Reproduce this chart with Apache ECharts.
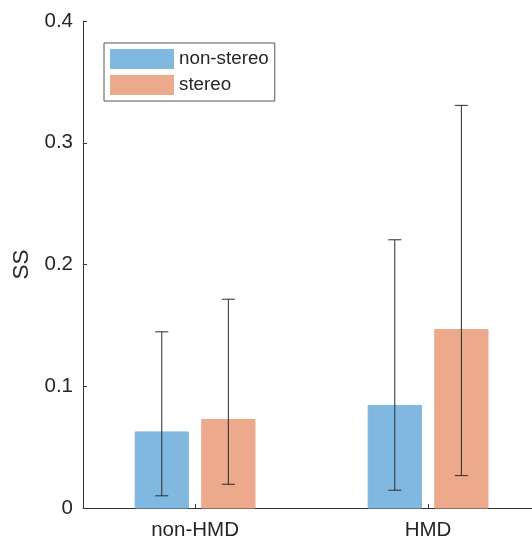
<!DOCTYPE html>
<html>
<head>
<meta charset="utf-8">
<script src="https://cdn.jsdelivr.net/npm/echarts@6/dist/echarts.min.js"></script>
<style>
  html, body { margin: 0; padding: 0; background: #fff; }
  #chart { width: 532px; height: 541px; }
</style>
</head>
<body>
<div id="chart"></div>
<script>
var categories = ["non-HMD", "HMD"];
var seriesNames = ["non-stereo", "stereo"];
var nonStereoMean = [0.0625, 0.0843];
var nonStereoLow = [0.010, 0.0146];
var nonStereoHigh = [0.1447, 0.2203];
var stereoMean = [0.0728, 0.1466];
var stereoLow = [0.0195, 0.0266];
var stereoHigh = [0.1715, 0.3307];
var yTicks = [0, 0.1, 0.2, 0.3, 0.4];

var colors = ["#80B8DF", "#ECA98C"];
var barWidth = 0.2286;
var offsets = [-0.1429, 0.1429];

var chartDom = document.getElementById("chart");
var myChart = echarts.init(chartDom);

function makeData(mean, low, high) {
  return categories.map(function (c, i) {
    return [i + 1, mean[i], low[i], high[i]];
  });
}

function barSeries(k, mean, low, high) {
  return {
    name: seriesNames[k],
    type: "custom",
    itemStyle: { color: colors[k] },
    data: makeData(mean, low, high),
    z: 2,
    renderItem: function (params, api) {
      var x = api.value(0) + offsets[k];
      var p0 = api.coord([x - barWidth / 2, api.value(1)]);
      var p1 = api.coord([x + barWidth / 2, 0]);
      return {
        type: "rect",
        shape: { x: p0[0], y: p0[1], width: p1[0] - p0[0], height: p1[1] - p0[1] },
        style: { fill: colors[k], stroke: colors[k], lineWidth: 1, opacity: 1 }
      };
    }
  };
}

function errSeries(k, mean, low, high) {
  return {
    type: "custom",
    data: makeData(mean, low, high),
    z: 3,
    renderItem: function (params, api) {
      var x = api.value(0) + offsets[k];
      var lo = api.coord([x, api.value(2)]);
      var hi = api.coord([x, api.value(3)]);
      var cap = 6.5;
      var st = { stroke: "#2b2b2b", lineWidth: 1 };
      return {
        type: "group",
        children: [
          { type: "line", shape: { x1: lo[0], y1: lo[1], x2: hi[0], y2: hi[1] }, style: st },
          { type: "line", shape: { x1: lo[0] - cap, y1: lo[1], x2: lo[0] + cap, y2: lo[1] }, style: st },
          { type: "line", shape: { x1: hi[0] - cap, y1: hi[1], x2: hi[0] + cap, y2: hi[1] }, style: st }
        ]
      };
    }
  };
}

var option = {
  animation: false,
  backgroundColor: "#fff",
  textStyle: { fontFamily: "Liberation Sans, Arial, sans-serif" },
  grid: { left: 83, right: 0, top: 21, bottom: 31 },
  legend: {
    data: seriesNames.map(function (n) { return { name: n, icon: "rect" }; }),
    orient: "vertical",
    left: 104,
    top: 43,
    padding: [6, 6, 6, 6],
    itemWidth: 64,
    itemHeight: 20,
    itemGap: 6,
    borderColor: "#555",
    borderWidth: 1,
    selectedMode: false,
    textStyle: { fontSize: 18.8, color: "#262626", fontFamily: "Liberation Sans, Arial, sans-serif" }
  },
  xAxis: {
    type: "value",
    min: 0.519,
    max: 2.446,
    splitLine: { show: false },
    axisLine: { show: true, lineStyle: { color: "#333", width: 1 } },
    axisTick: { show: true, inside: true, length: 4, customValues: [1, 2], lineStyle: { color: "#333" } },
    axisLabel: {
      customValues: [1, 2],
      formatter: function (v) { return categories[Math.round(v) - 1] || ""; },
      fontSize: 20.5,
      color: "#262626",
      margin: 12
    }
  },
  yAxis: {
    type: "value",
    min: yTicks[0],
    max: yTicks[yTicks.length - 1],
    interval: 0.1,
    name: "SS",
    nameLocation: "middle",
    nameGap: 45,
    nameTextStyle: { fontSize: 22.5, color: "#262626" },
    splitLine: { show: false },
    axisLine: { show: true, lineStyle: { color: "#333", width: 1 } },
    axisTick: { show: true, inside: true, length: 4, lineStyle: { color: "#333" } },
    axisLabel: { fontSize: 20.5, color: "#262626", margin: 10 }
  },
  series: [
    barSeries(0, nonStereoMean, nonStereoLow, nonStereoHigh),
    barSeries(1, stereoMean, stereoLow, stereoHigh),
    errSeries(0, nonStereoMean, nonStereoLow, nonStereoHigh),
    errSeries(1, stereoMean, stereoLow, stereoHigh)
  ]
};

myChart.setOption(option);
window.addEventListener("resize", function () {
  myChart.resize();
});
</script>
</body>
</html>
